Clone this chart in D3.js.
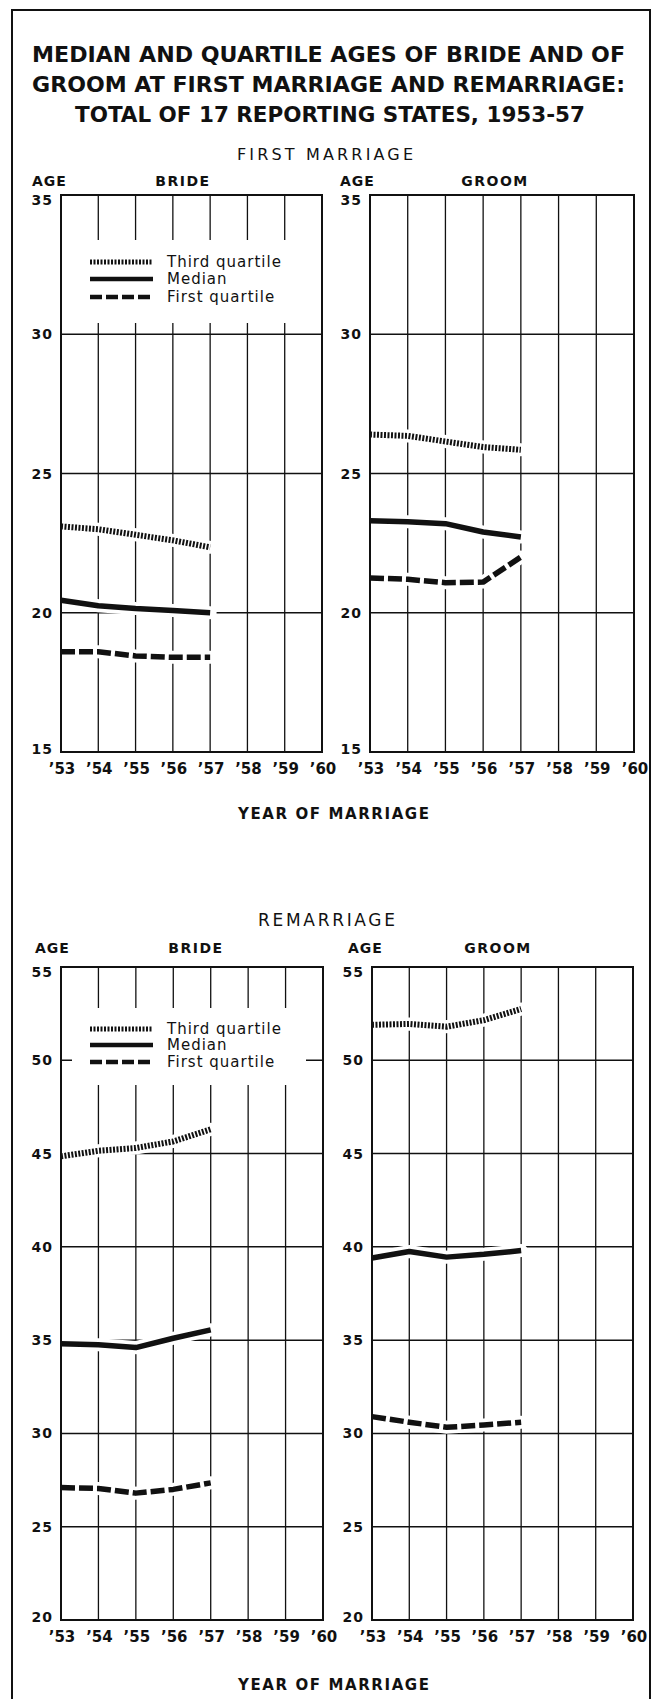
<!DOCTYPE html>
<html>
<head>
<meta charset="utf-8">
<script src="https://cdn.jsdelivr.net/npm/d3@7"></script>
<style>
  body { margin: 0; background: #fff; }
  svg text { fill: #111; font-family: "DejaVu Sans", sans-serif; }
</style>
</head>
<body>
<svg id="chart"></svg>
<script>
const SVG_W = 661;
const SVG_H = 1699;

// data
const years      = [1953, 1954, 1955, 1956, 1957];
const yearTicks  = [1953, 1954, 1955, 1956, 1957, 1958, 1959, 1960];
const yearLabels = ["\u201953", "\u201954", "\u201955", "\u201956", "\u201957", "\u201958", "\u201959", "\u201960"];

const firstTicks = [15, 20, 25, 30, 35];
const remarTicks = [20, 25, 30, 35, 40, 45, 50, 55];

const firstBrideQ3  = [23.1, 23.0, 22.8, 22.6, 22.35];
const firstBrideMed = [20.45, 20.25, 20.15, 20.08, 20.0];
const firstBrideQ1  = [18.6, 18.6, 18.45, 18.4, 18.4];

const firstGroomQ3  = [26.4, 26.35, 26.15, 25.95, 25.85];
const firstGroomMed = [23.3, 23.27, 23.2, 22.9, 22.72];
const firstGroomQ1  = [21.25, 21.2, 21.08, 21.1, 22.0];

const remarBrideQ3  = [44.85, 45.15, 45.3, 45.65, 46.3];
const remarBrideMed = [34.8, 34.75, 34.6, 35.1, 35.55];
const remarBrideQ1  = [27.1, 27.05, 26.8, 27.0, 27.35];

const remarGroomQ3  = [51.9, 51.95, 51.8, 52.15, 52.75];
const remarGroomMed = [39.4, 39.75, 39.45, 39.6, 39.8];
const remarGroomQ1  = [30.9, 30.6, 30.33, 30.45, 30.6];

const legendLabels = ["Third  quartile", "Median", "First  quartile"];

const STYLES = {
  q3:  { width: 6,   dash: "2,1.5" },
  med: { width: 5.5, dash: null },
  q1:  { width: 5.5, dash: "14,4" }
};

const svg = d3.select('#chart')
  .attr('width', SVG_W)
  .attr('height', SVG_H)
  .attr('viewBox', `0 0 ${SVG_W} ${SVG_H}`);

// outer frame (open at the bottom of the page)
svg.append('path')
  .attr('d', `M 12 ${SVG_H + 5} L 12 10 L 650 10 L 650 ${SVG_H + 5}`)
  .attr('fill', 'none').attr('stroke', '#111').attr('stroke-width', 2);

// titles
const titleLines = [
  { text: "MEDIAN  AND  QUARTILE  AGES  OF  BRIDE  AND  OF", x0: 32, x1: 625, y: 55 },
  { text: "GROOM  AT  FIRST  MARRIAGE  AND  REMARRIAGE:",     x0: 32, x1: 625, y: 85 },
  { text: "TOTAL  OF  17  REPORTING  STATES,  1953-57",       x0: 75, x1: 585, y: 115 }
];
titleLines.forEach(t => {
  svg.append('text')
    .attr('x', t.x0).attr('y', t.y)
    .attr('dominant-baseline', 'central')
    .attr('font-size', 21).attr('font-weight', 'bold')
    .attr('textLength', t.x1 - t.x0)
    .attr('lengthAdjust', 'spacingAndGlyphs')
    .text(t.text);
});

function spacedText(x0, x1, y, size, str, weight) {
  svg.append('text')
    .attr('x', x0).attr('y', y)
    .attr('dominant-baseline', 'central')
    .attr('font-size', size)
    .attr('font-weight', weight || 'normal')
    .attr('textLength', x1 - x0)
    .attr('lengthAdjust', 'spacing')
    .text(str);
}

spacedText(237, 413, 154, 16, "FIRST MARRIAGE");
spacedText(238, 429, 814, 15, "YEAR  OF  MARRIAGE", 'bold');
spacedText(258, 395, 920, 17, "REMARRIAGE");
spacedText(238, 429, 1685, 15, "YEAR  OF  MARRIAGE", 'bold');

function drawPanel(p) {
  const x = d3.scaleLinear().domain([1953, 1960]).range([p.left, p.right]);
  const y = d3.scaleLinear().domain(p.domain).range([p.bottom, p.top]);
  const g = svg.append('g');

  // header labels
  g.append('text')
    .attr('x', p.ageX).attr('y', p.headY)
    .attr('dominant-baseline', 'central')
    .attr('font-size', 14).attr('font-weight', 'bold')
    .attr('letter-spacing', 1)
    .text('AGE');
  g.append('text')
    .attr('x', p.nameX).attr('y', p.headY)
    .attr('text-anchor', 'middle')
    .attr('dominant-baseline', 'central')
    .attr('font-size', 14).attr('font-weight', 'bold')
    .attr('letter-spacing', 1.5)
    .text(p.name);

  // grid
  g.append('g').selectAll('line.v')
    .data(yearTicks.slice(1, -1))
    .join('line')
    .attr('x1', d => x(d)).attr('x2', d => x(d))
    .attr('y1', p.top).attr('y2', p.bottom)
    .attr('stroke', '#111').attr('stroke-width', 1.3);
  g.append('g').selectAll('line.h')
    .data(p.ticks.slice(1, -1))
    .join('line')
    .attr('x1', p.left).attr('x2', p.right)
    .attr('y1', d => y(d)).attr('y2', d => y(d))
    .attr('stroke', '#111').attr('stroke-width', 1.5);

  // y tick labels (top one sits just under the frame, bottom one just above)
  const lastTick = p.ticks[p.ticks.length - 1];
  g.append('g').selectAll('text')
    .data(p.ticks)
    .join('text')
    .attr('x', p.left - 8)
    .attr('y', d => y(d) + (d === lastTick ? 5 : d === p.ticks[0] ? -3 : 0))
    .attr('text-anchor', 'end')
    .attr('dominant-baseline', 'central')
    .attr('font-size', 14).attr('font-weight', 'bold')
    .attr('letter-spacing', 1)
    .text(d => d);

  // x tick labels
  g.append('g').selectAll('text')
    .data(yearTicks)
    .join('text')
    .attr('x', d => x(d) + 1)
    .attr('y', p.bottom + 17)
    .attr('text-anchor', 'middle')
    .attr('dominant-baseline', 'central')
    .attr('font-size', 15).attr('font-weight', 'bold')
    .text((d, i) => yearLabels[i]);

  const series = [
    { key: 'q3',  values: p.q3 },
    { key: 'med', values: p.med },
    { key: 'q1',  values: p.q1 }
  ];
  const line = d3.line()
    .x((d, i) => x(years[i]))
    .y(d => y(d))
    .curve(d3.curveLinear);

  // legend white box
  if (p.legend) {
    g.append('rect')
      .attr('x', p.left + 11).attr('y', p.legendTop)
      .attr('width', (p.right - 17) - (p.left + 11))
      .attr('height', p.legendBottom - p.legendTop)
      .attr('fill', '#fff');
  }

  // white halos that break the grid around each curve
  series.forEach(s => {
    g.append('path')
      .attr('d', line(s.values))
      .attr('fill', 'none')
      .attr('stroke', '#fff')
      .attr('stroke-width', 13)
      .attr('stroke-linecap', 'round');
  });

  // plot frame
  g.append('rect')
    .attr('x', p.left).attr('y', p.top)
    .attr('width', p.right - p.left).attr('height', p.bottom - p.top)
    .attr('fill', 'none').attr('stroke', '#111').attr('stroke-width', 2);

  series.forEach(s => {
    const st = STYLES[s.key];
    g.append('path')
      .attr('d', line(s.values))
      .attr('fill', 'none')
      .attr('stroke', '#111')
      .attr('stroke-width', st.width)
      .attr('stroke-dasharray', st.dash)
      .attr('stroke-linejoin', 'round');
  });

  if (p.legend) {
    const rowY = p.legendRows;
    ['q3', 'med', 'q1'].forEach((k, i) => {
      const st = STYLES[k];
      g.append('line')
        .attr('x1', p.left + 29).attr('x2', p.left + 92)
        .attr('y1', rowY[i]).attr('y2', rowY[i])
        .attr('stroke', '#111')
        .attr('stroke-width', k === 'q3' ? 5 : 4.5)
        .attr('stroke-dasharray', k === 'q1' ? "12,4" : st.dash);
      g.append('text')
        .attr('x', p.left + 106).attr('y', rowY[i])
        .attr('dominant-baseline', 'central')
        .attr('font-size', 15)
        .attr('letter-spacing', 1)
        .text(legendLabels[i]);
    });
  }
}

drawPanel({
  name: 'BRIDE', left: 61, right: 322, top: 195, bottom: 752, domain: [15, 35], ticks: firstTicks,
  ageX: 32, nameX: 183, headY: 181,
  q3: firstBrideQ3, med: firstBrideMed, q1: firstBrideQ1,
  legend: true, legendTop: 240, legendBottom: 323, legendRows: [262, 279, 297]
});
drawPanel({
  name: 'GROOM', left: 370, right: 634, top: 195, bottom: 752, domain: [15, 35], ticks: firstTicks,
  ageX: 340, nameX: 495, headY: 181,
  q3: firstGroomQ3, med: firstGroomMed, q1: firstGroomQ1
});
drawPanel({
  name: 'BRIDE', left: 61, right: 323, top: 967, bottom: 1620, domain: [20, 55], ticks: remarTicks,
  ageX: 35, nameX: 196, headY: 948,
  q3: remarBrideQ3, med: remarBrideMed, q1: remarBrideQ1,
  legend: true, legendTop: 1008, legendBottom: 1085, legendRows: [1029, 1045, 1062]
});
drawPanel({
  name: 'GROOM', left: 372, right: 633, top: 967, bottom: 1620, domain: [20, 55], ticks: remarTicks,
  ageX: 348, nameX: 498, headY: 948,
  q3: remarGroomQ3, med: remarGroomMed, q1: remarGroomQ1
});
</script>
</body>
</html>
